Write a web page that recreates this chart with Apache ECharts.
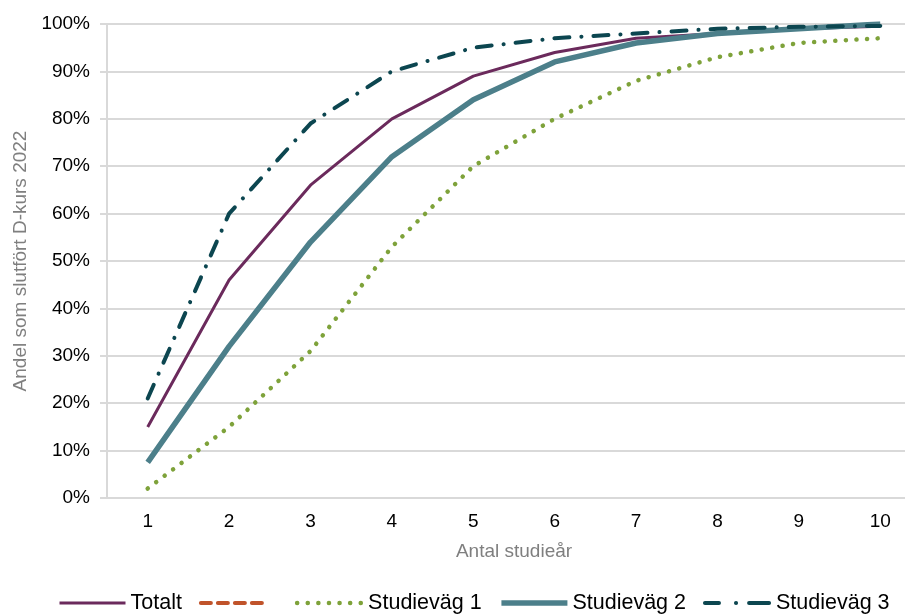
<!DOCTYPE html>
<html><head><meta charset="utf-8">
<script src="https://cdn.jsdelivr.net/npm/echarts@6/dist/echarts.min.js"></script>
<style>html,body{margin:0;padding:0;background:#fff}#c{width:905px;height:615px}</style>
</head><body><div id="c"></div>
<script>
const categories = ['1','2','3','4','5','6','7','8','9','10'];
const totalt = [15, 46, 66, 80, 89, 94, 97, 98, 99, 99.5];
const blank = [];
const studievag1 = [2, 15, 31, 53, 70, 80, 88, 93, 96, 97];
const studievag2 = [7.5, 32, 54, 72, 84, 92, 96, 98, 99, 100];
const studievag3 = [21, 60, 79, 90, 95, 97, 98, 99, 99.4, 99.6];
const seriesNames = ['Totalt',' ','Studieväg 1','Studieväg 2','Studieväg 3'];

const FONT = '"Liberation Sans",Arial,sans-serif';
const chart = echarts.init(document.getElementById('c'), null, {renderer:'canvas'});
chart.setOption({
  animation:false,
  backgroundColor:'#fff',
  grid:{left:107, top:24, right:-16, bottom:117, containLabel:false, outerBoundsMode:'none'},
  legend:{
    top:592, left:58, width:900, padding:0, itemWidth:66, itemHeight:14, itemGap:17,
    itemStyle:{opacity:0},
    textStyle:{fontFamily:FONT, fontSize:21.5, color:'#000'},
    data:[
      {name:seriesNames[0], lineStyle:{width:3}},
      {name:seriesNames[1], lineStyle:{width:4, cap:'round'}},
      {name:seriesNames[2], lineStyle:{width:4.5, cap:'round'}},
      {name:seriesNames[3], lineStyle:{width:5.5}},
      {name:seriesNames[4], lineStyle:{width:4, cap:'round', type:[14,17,0.1,13,20,100]}}
    ]
  },
  xAxis:{
    type:'category', data:categories, boundaryGap:true,
    name:'Antal studieår', nameLocation:'middle', nameGap:44,
    nameTextStyle:{fontFamily:FONT, fontSize:19, color:'#7f7f7f'},
    axisLine:{show:true, lineStyle:{color:'#d9d9d9', width:2}},
    axisTick:{show:false},
    axisLabel:{fontFamily:FONT, fontSize:19, color:'#000', margin:14}
  },
  yAxis:{
    type:'value', min:0, max:100, interval:10,
    name:'Andel som slutfört D-kurs 2022', nameLocation:'middle', nameGap:72, nameRotate:90,
    nameTextStyle:{fontFamily:FONT, fontSize:19, color:'#7f7f7f'},
    axisLine:{show:true, lineStyle:{color:'#d9d9d9', width:2}},
    axisTick:{show:true, length:7, lineStyle:{color:'#d9d9d9', width:2}},
    splitLine:{show:true, lineStyle:{color:'#d9d9d9', width:2}},
    axisLabel:{fontFamily:FONT, fontSize:19, color:'#000', margin:17, formatter: v => v + '%'}
  },
  series:[
    {name:seriesNames[0], type:'line', data:totalt, symbol:'none', color:'#6b2a5c',
     lineStyle:{width:3, color:'#6b2a5c'}},
    {name:seriesNames[1], type:'line', data:blank, symbol:'none', color:'#c0532a',
     lineStyle:{width:4, color:'#c0532a', type:[10,7], cap:'round'}},
    {name:seriesNames[2], type:'line', data:studievag1, symbol:'none', color:'#7ea23a',
     lineStyle:{width:4.5, color:'#7ea23a', type:[0.1,10.5], cap:'round'}},
    {name:seriesNames[3], type:'line', data:studievag2, symbol:'none', color:'#4c7f8a',
     lineStyle:{width:5.5, color:'#4c7f8a'}},
    {name:seriesNames[4], type:'line', data:studievag3, symbol:'none', color:'#0c4650',
     lineStyle:{width:4, color:'#0c4650', type:[15,12,0.1,12], cap:'round'}}
  ]
});
</script></body></html>
